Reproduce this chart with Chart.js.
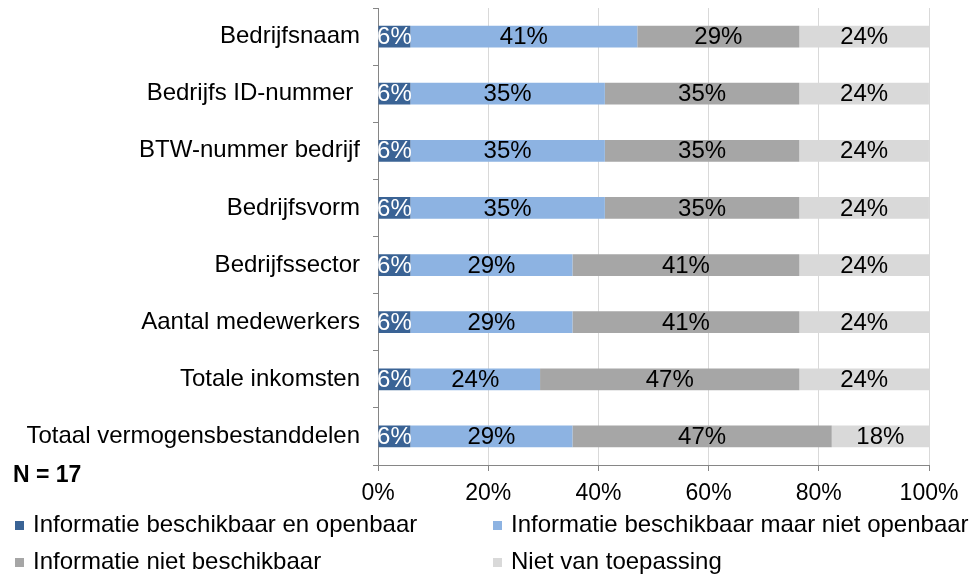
<!DOCTYPE html>
<html>
<head>
<meta charset="utf-8">
<script src="https://cdn.jsdelivr.net/npm/chart.js@4/dist/chart.umd.min.js"></script>
<style>
html,body{margin:0;padding:0;background:#fff;}
#wrap{width:978px;height:577px;position:relative;}
</style>
</head>
<body>
<div id="wrap"><canvas id="c" width="978" height="577"></canvas></div>
<script>
const categories = ["Bedrijfsnaam","Bedrijfs ID-nummer ","BTW-nummer bedrijf","Bedrijfsvorm","Bedrijfssector","Aantal medewerkers","Totale inkomsten","Totaal vermogensbestanddelen"];
const seriesNames = ["Informatie beschikbaar en openbaar","Informatie beschikbaar maar niet openbaar","Informatie niet beschikbaar","Niet van toepassing"];
const openbaar = [5.88,5.88,5.88,5.88,5.88,5.88,5.88,5.88];
const nietOpenbaar = [41.18,35.29,35.29,35.29,29.41,29.41,23.53,29.41];
const nietBeschikbaar = [29.41,35.29,35.29,35.29,41.18,41.18,47.06,47.06];
const nietVanToepassing = [23.53,23.53,23.53,23.53,23.53,23.53,23.53,17.65];
const xTicks = [0,20,40,60,80,100];
const colors = ["#3A6395","#8DB3E2","#A6A6A6","#D9D9D9"];
const labelColors = ["#ffffff","#000000","#000000","#000000"];
const noteText = "N = 17";
const FONT = "'Liberation Sans', Arial, sans-serif";

const seriesValues = [openbaar,nietOpenbaar,nietBeschikbaar,nietVanToepassing];

const dataLabelPlugin = {
  id:'dataLabels',
  afterDatasetsDraw(chart){
    const ctx = chart.ctx, area = chart.chartArea;
    ctx.save();
    ctx.beginPath();
    ctx.rect(area.left, area.top, area.right-area.left, area.bottom-area.top);
    ctx.clip();
    ctx.font = "24px " + FONT;
    ctx.textAlign = 'center';
    ctx.textBaseline = 'middle';
    chart.data.datasets.forEach((ds, di) => {
      const meta = chart.getDatasetMeta(di);
      meta.data.forEach((bar, i) => {
        const v = ds.data[i];
        const cx = (bar.x + bar.base)/2;
        ctx.fillStyle = labelColors[di];
        ctx.fillText(Math.round(v) + '%', cx, bar.y + 1);
      });
    });
    ctx.restore();
  }
};

const legendPlugin = {
  id:'customLegend',
  afterDraw(chart){
    const ctx = chart.ctx;
    ctx.save();
    ctx.font = "bold 23px " + FONT;
    ctx.fillStyle = "#000";
    ctx.textAlign = 'left';
    ctx.textBaseline = 'middle';
    ctx.fillText(noteText, 13, 476);
    ctx.font = "24px " + FONT;
    const pos = [[15,525],[493,525],[15,562],[493,562]];
    chart.data.datasets.forEach((ds, i) => {
      const [x,y] = pos[i];
      ctx.fillStyle = ds.backgroundColor;
      ctx.fillRect(x, y-4, 9, 9);
      ctx.fillStyle = "#000";
      ctx.fillText(ds.label, x+18, y);
    });
    ctx.restore();
  }
};

new Chart(document.getElementById('c'), {
  type:'bar',
  data:{
    labels: categories,
    datasets: seriesValues.map((vals, i) => ({
      label: seriesNames[i],
      data: vals,
      backgroundColor: colors[i],
      borderWidth: 0,
      barPercentage: 0.38,
      categoryPercentage: 1.0
    }))
  },
  options:{
    indexAxis:'y',
    responsive:false,
    animation:false,
    layout:{padding:{left:0,right:49,top:8,bottom:0}},
    plugins:{legend:{display:false},tooltip:{enabled:false}},
    scales:{
      x:{
        stacked:true,
        min:0,max:100,
        afterBuildTicks(scale){ scale.ticks = xTicks.map(v => ({value:v})); },
        afterFit(scale){ scale.height = 112; },
        ticks:{
          callback:(v)=> v + '%',
          color:'#000',
          font:{size:23, family:FONT},
          padding:9,
          maxRotation:0
        },
        grid:{color:'#D9D9D9', lineWidth:1, tickColor:'#868686', tickLength:6, drawTicks:true},
        border:{display:true, color:'#868686', width:1}
      },
      y:{
        stacked:true,
        afterFit(scale){ scale.width = 378; scale.paddingTop = 0; scale.paddingBottom = 0; },
        ticks:{
          color:'#000',
          font:{size:24, family:FONT},
          padding:13
        },
        grid:{drawOnChartArea:false, drawTicks:true, tickLength:5, tickColor:'#868686', offset:true},
        border:{display:true, color:'#868686', width:1}
      }
    }
  },
  plugins:[dataLabelPlugin, legendPlugin]
});
</script>
</body>
</html>
